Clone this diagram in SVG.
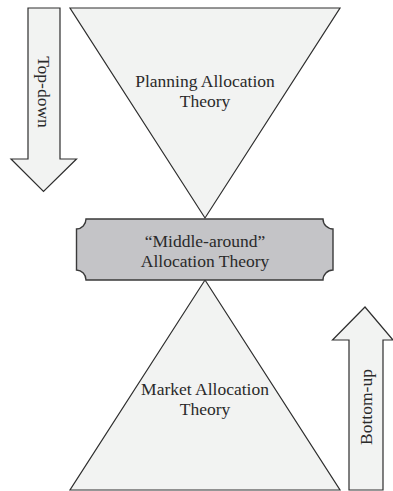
<svg xmlns="http://www.w3.org/2000/svg" width="393" height="491" viewBox="0 0 393 491">
  <style>
    .shape { fill: #f2f3f2; stroke: #2e2e2e; stroke-width: 1.2; stroke-linejoin: miter; }
    .box { fill: #c4c4c7; stroke: #3a3a3a; stroke-width: 1.4; }
    .lbl { font-family: "Liberation Serif", "Times New Roman", serif; font-size: 17.5px; fill: #2a2a2a; text-anchor: middle; }
  </style>
  <rect width="393" height="491" fill="#ffffff"/>

  <g id="connectors">
    <!-- Top-down arrow -->
    <polygon class="shape" points="28,8 60,8 60,159 76.5,159 43.5,191.5 11,159 28,159"/>
    <!-- Bottom-up arrow -->
    <polygon class="shape" points="349,490 383,490 383,340 393,340 365,307 332.5,340 349,340"/>
    <text class="lbl" transform="translate(43.5,92) rotate(90)" dy="5.5">Top-down</text>
    <text class="lbl" transform="translate(366,407) rotate(-90)" dy="5.5">Bottom-up</text>
  </g>

  <g id="planning">
    <polygon class="shape" points="70,8 340,8 205,218"/>
    <text class="lbl" x="205" y="87">Planning Allocation</text>
    <text class="lbl" x="205" y="107">Theory</text>
  </g>

  <g id="market">
    <polygon class="shape" points="205,280 340,490 70,490"/>
    <text class="lbl" x="205" y="395">Market Allocation</text>
    <text class="lbl" x="205" y="415">Theory</text>
  </g>

  <g id="middle">
    <path class="box" d="M86,219 H323 A10,10 0 0 0 333,229 V270 A10,10 0 0 0 323,280 H86 A10,10 0 0 0 76.5,270 V229 A10,10 0 0 0 86,219 Z"/>
    <text class="lbl" x="205" y="247">“Middle-around”</text>
    <text class="lbl" x="205" y="267">Allocation Theory</text>
  </g>
</svg>
